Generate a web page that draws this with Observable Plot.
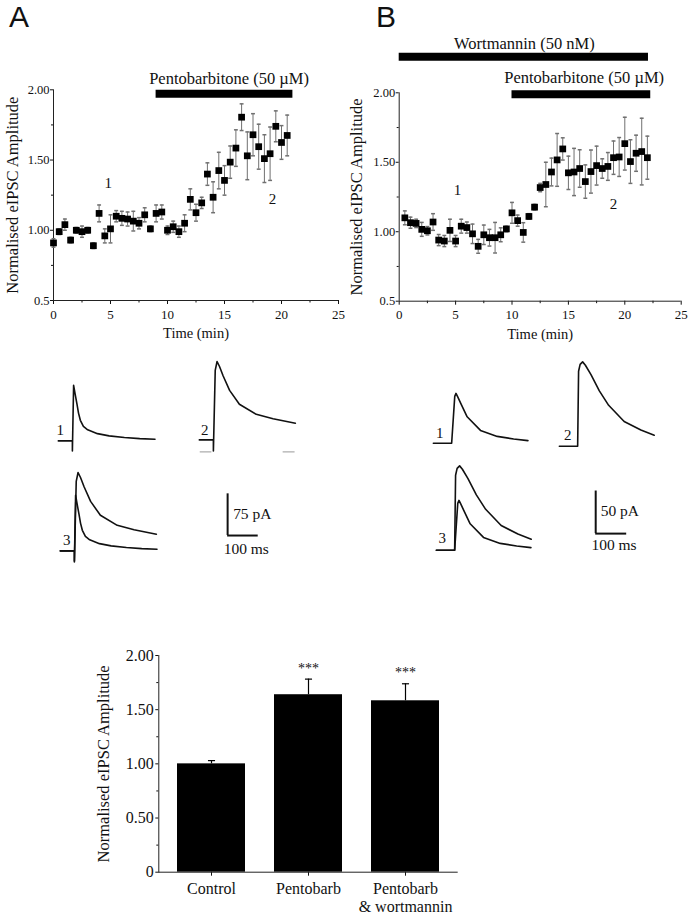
<!DOCTYPE html>
<html><head><meta charset="utf-8">
<script src="https://cdn.jsdelivr.net/npm/d3@7"></script>
<script src="https://cdn.jsdelivr.net/npm/@observablehq/plot@0.6"></script>
<style>
body{margin:0;background:#fff;}
#fig{position:relative;width:694px;height:918px;overflow:hidden;background:#fff;font-family:"Liberation Serif","Times New Roman",serif;color:#111;}
.letter{position:absolute;font-family:"Liberation Sans",Arial,sans-serif;font-size:30px;line-height:30px;color:#111;}
</style></head><body><div id="fig"><div class="letter" style="left:9px;top:2px">A</div><div class="letter" style="left:376px;top:2px">B</div></div>
<script>
// ---------------- DATA ----------------
// Time course, panel A (control slices)
const timeA = [0,0.5,1,1.5,2,2.5,3,3.5,4,4.5,5,5.5,6,6.5,7,7.5,8,8.5,9,9.5,10,10.5,11,11.5,12,12.5,13,13.5,14,14.5,15,15.5,16,16.5,17,17.5,18,18.5,19,19.5,20,20.5];
const ampA = [0.91,0.99,1.04,0.93,1.00,0.99,1.00,0.89,1.12,0.96,1.01,1.10,1.085,1.08,1.065,1.05,1.11,1.01,1.12,1.13,1.00,1.025,0.99,1.05,1.22,1.125,1.195,1.40,1.235,1.425,1.355,1.485,1.585,1.805,1.53,1.68,1.595,1.51,1.545,1.74,1.625,1.675];
const semA = [0.03,0.02,0.04,0.02,0.02,0.04,0.02,0.02,0.06,0.05,0.10,0.04,0.05,0.05,0.07,0.04,0.05,0.02,0.06,0.05,0.03,0.04,0.04,0.06,0.075,0.06,0.04,0.08,0.11,0.13,0.105,0.115,0.13,0.095,0.17,0.15,0.16,0.17,0.19,0.11,0.12,0.145];
// Time course, panel B (wortmannin)
const timeB = [0.5,1,1.5,2,2.5,3,3.5,4,4.5,5,5.5,6,6.5,7,7.5,8,8.5,9,9.5,10,10.5,11,11.5,12,12.5,13,13.5,14,14.5,15,15.5,16,16.5,17,17.5,18,18.5,19,19.5,20,20.5,21,21.5,22];
const ampB = [1.10,1.065,1.06,1.017,1.007,1.07,0.94,0.933,1.01,0.933,1.04,1.03,0.985,0.895,0.978,0.957,0.957,0.978,1.02,1.136,1.08,0.995,1.11,1.177,1.318,1.34,1.43,1.517,1.596,1.424,1.43,1.455,1.361,1.433,1.476,1.455,1.47,1.533,1.538,1.634,1.505,1.565,1.577,1.533];
const semB = [0.05,0.04,0.03,0.05,0.03,0.06,0.04,0.04,0.08,0.04,0.05,0.04,0.07,0.05,0.07,0.06,0.11,0.05,0.02,0.075,0.04,0.07,0.02,0.02,0.03,0.16,0.10,0.19,0.08,0.12,0.17,0.135,0.12,0.155,0.14,0.07,0.10,0.12,0.14,0.19,0.157,0.13,0.24,0.155];
// Drug application periods (min)
const drugNamesA = ["Pentobarbitone (50 µM)"];
const drugStartA = [9];
const drugEndA = [21];
const drugNamesB = ["Wortmannin (50 nM)", "Pentobarbitone (50 µM)"];
const drugStartB = [0, 10];
const drugEndB = [22.1, 22.3];
// Axis ticks
const timeTicks = [0,5,10,15,20,25];
const timeMinor = [2.5,7.5,12.5,17.5,22.5];
const ampTicks = [0.5,1,1.5,2];
const ampMinor = [0.75,1.25,1.75];
// Example eIPSC traces (time ms from stimulus, current pA above baseline)
const ctrlA_ms = [-46,0,0,4,9,15,20,26,36,50,82,120,170,220,270];
const ctrlA_pA = [0,0,-18,100,84,66,50,37,26,20,13,9,6,4,3];
const pentoA_ms = [-46,0,0,6,12,20,32,53,85,140,195,268];
const pentoA_pA = [0,0,-20,125,141,132,115,89,64,46,38,30];
const ctrlB_ms = [-59,0,10,14,20,29,50,93,147,200,246];
const ctrlB_pA = [0,0,55,58.5,54,47,31,15,8,5,3];
const pentoB_ms = [-59,0,3,8,16,25,43,70,100,150,204,247];
const pentoB_pA = [0,0,88,96,99,95,84,65,48,29,19,13];
const baselineA2_start = [-43, 228];
const baselineA2_end = [-5, 267];
const traceNames = ["1","2","3"];
const scaleBarMs = [100, 100];
const scaleBarPa = [75, 50];
// Summary bar chart
const barCats = ["Control", "Pentobarb", "Pentobarb\n& wortmannin"];
const barMeans = [1.00, 1.638, 1.582];
const barSems = [0.03, 0.144, 0.157];
const barSig = ["", "***", "***"];
const barTicks = [0,0.5,1,1.5,2];
const barMinor = [0.25,0.75,1.25,1.75];

// ---------------- DRAWING ----------------
const SERIF = "'Liberation Serif','Times New Roman',serif";
const fig = document.getElementById("fig");
function place(el, left, top){ el.style.position="absolute"; el.style.left=left+"px"; el.style.top=top+"px"; fig.appendChild(el); }
const capSymbol = { draw(ctx, size){ const w = Math.sqrt(size)/2; ctx.moveTo(-w,0); ctx.lineTo(w,0); } };
const baseStyle = {fontFamily: SERIF, fontSize:"13px", color:"#111", background:"transparent", overflow:"visible"};

function timeCourse(cfg){
  const rows = cfg.t.map((t,i)=>({t, v:cfg.v[i], e:cfg.e[i]}));
  const drugs = cfg.names.map((name,i)=>({name, start:cfg.start[i], end:cfg.end[i]}));
  const nums = ["1","2"].map((s)=>({s}));
  const svg = Plot.plot({
    width: cfg.width, height: cfg.height,
    marginLeft: cfg.ml, marginRight: cfg.mr, marginTop: cfg.mt, marginBottom: cfg.mb,
    x:{domain:[0,25]}, y:{domain:[0.5,2]},
    style: baseStyle,
    marks: [
      Plot.axisX({ticks: timeTicks, tickSize:4, tickPadding:5, fontSize:13, label:null}),
      Plot.axisX({ticks: timeMinor, tickSize:2.5, tickFormat:()=>"", label:null}),
      Plot.axisY({ticks: ampTicks, tickSize:3, tickPadding:1, fontSize:12.5, label:null, tickFormat: d => d===0.5 ? "0.5" : d.toFixed(2)}),
      Plot.axisY({ticks: ampMinor, tickSize:2, tickFormat:()=>"", label:null}),
      Plot.ruleX([0], {stroke:"#222"}),
      Plot.ruleY([0.5], {stroke:"#222"}),
      Plot.ruleX(rows, {x:"t", y1:d=>d.v-d.e, y2:d=>d.v+d.e, stroke:"#707070", strokeWidth:1}),
      Plot.dot(rows, {x:"t", y:d=>d.v+d.e, symbol:capSymbol, r:2.2, stroke:"#707070", fill:"none"}),
      Plot.dot(rows, {x:"t", y:d=>d.v-d.e, symbol:capSymbol, r:2.2, stroke:"#707070", fill:"none"}),
      Plot.dot(rows, {x:"t", y:"v", symbol:"square", r:3.8, fill:"#000", stroke:"none"}),
      Plot.ruleY(drugs, {y:(d,i)=>cfg.barY[i], x1:"start", x2:"end", stroke:"#000", strokeWidth:8}),
      Plot.text(drugs, {x:(d,i)=>cfg.labelX[i], y:(d,i)=>cfg.labelY[i], text:"name", fontSize:16.5}),
      Plot.text(nums, {x:(d,i)=>cfg.numX[i], y:(d,i)=>cfg.numY[i], text:"s", fontSize:15}),
      Plot.text(["Time (min)"], {frameAnchor:"bottom", lineAnchor:"middle", dy:33, fontSize:14.5}),
      Plot.text(["Normalised eIPSC Amplitude"], {frameAnchor:"left", textAnchor:"middle", lineAnchor:"middle", rotate:-90, dx:cfg.labelDx, fontSize:16.5})
    ]
  });
  place(svg, cfg.left, cfg.top);
}

timeCourse({t:timeA, v:ampA, e:semA, names:drugNamesA, start:drugStartA, end:drugEndA,
  left:0, top:60, width:345, height:290, ml:53, mr:7, mt:29.3, mb:50,
  barY:[1.972], labelX:[15.4], labelY:[2.08], numX:[4.8,19.2], numY:[1.333,1.22], labelDx:-41});
timeCourse({t:timeB, v:ampB, e:semB, names:drugNamesB, start:drugStartB, end:drugEndB,
  left:345, top:20, width:349, height:330, ml:53.7, mr:13.3, mt:72.3, mb:49.3,
  barY:[2.259,1.99], labelX:[11.1,16.4], labelY:[2.355,2.108], numX:[5.17,19.0], numY:[1.297,1.196], labelDx:-42});

// Trace panels
function tracePlot(cfg){
  const xd = cfg.xd, yd = cfg.yd;
  const w = (xd[1]-xd[0])*cfg.px, h = (yd[1]-yd[0])*cfg.py;
  const marks = cfg.series.map(s => Plot.line(s.ms.map((m,i)=>({m, a:s.pA[i]})), {x:"m", y:"a", stroke:"#111", strokeWidth:1.6, curve:"linear"}));
  if (cfg.extra) marks.push(...cfg.extra);
  if (cfg.label) marks.push(Plot.text([cfg.label], {x:()=>cfg.labelPos[0], y:()=>cfg.labelPos[1], text:d=>d, fontSize:15}));
  const svg = Plot.plot({width:w, height:h, margin:0, x:{domain:xd, axis:null}, y:{domain:yd, axis:null}, style:baseStyle, marks});
  place(svg, cfg.stimX + xd[0]*cfg.px, cfg.baseY - yd[1]*cfg.py);
}
const cA = {ms:ctrlA_ms, pA:ctrlA_pA}, pA_ = {ms:pentoA_ms, pA:pentoA_pA};
const cB = {ms:ctrlB_ms, pA:ctrlB_pA}, pB_ = {ms:pentoB_ms, pA:pentoB_pA};
const A_px = 0.306, A_py = 0.556, B_px = 0.31, B_py = 0.852;
const A_xd = [-65,285], A_yd = [-30,150], B_xd = [-65,285], B_yd = [-20,110];
const baseA2 = baselineA2_start.map((s,i)=>({s, e:baselineA2_end[i]}));
tracePlot({series:[cA], xd:A_xd, yd:A_yd, px:A_px, py:A_py, stimX:72.3, baseY:440.7, label:traceNames[0], labelPos:[-40,20]});
tracePlot({series:[pA_], xd:A_xd, yd:A_yd, px:A_px, py:A_py, stimX:213.3, baseY:439, label:traceNames[1], labelPos:[-28,17],
  extra:[Plot.ruleY(baseA2, {y:()=>-21.6, x1:"s", x2:"e", stroke:"#999", strokeWidth:1})]});
tracePlot({series:[cA, pA_], xd:A_xd, yd:A_yd, px:A_px, py:A_py, stimX:74.3, baseY:550.7, label:traceNames[2], labelPos:[-25,19]});
tracePlot({series:[cB], xd:B_xd, yd:B_yd, px:B_px, py:B_py, stimX:451, baseY:442.7, label:traceNames[0], labelPos:[-38,12]});
tracePlot({series:[pB_], xd:B_xd, yd:B_yd, px:B_px, py:B_py, stimX:576.7, baseY:446, label:traceNames[1], labelPos:[-32,13]});
tracePlot({series:[cB, pB_], xd:B_xd, yd:B_yd, px:B_px, py:B_py, stimX:454.3, baseY:550, label:traceNames[2], labelPos:[-40,14]});

// Scale bars
function scaleBar(cfg){
  const sb = [{ms:cfg.ms, pA:cfg.pA}];
  const xd = cfg.xd, yd = cfg.yd;
  const svg = Plot.plot({width:(xd[1]-xd[0])*cfg.px, height:(yd[1]-yd[0])*cfg.py, margin:0,
    x:{domain:xd, axis:null}, y:{domain:yd, axis:null}, style:baseStyle,
    marks:[
      Plot.ruleX(sb, {x:()=>0, y1:()=>0, y2:"pA", stroke:"#111", strokeWidth:2}),
      Plot.ruleY(sb, {y:()=>0, x1:()=>0, x2:"ms", stroke:"#111", strokeWidth:2}),
      Plot.text(sb, {x:()=>cfg.pAText[0], y:()=>cfg.pAText[1], text:d=>`${d.pA} pA`, textAnchor:"start", fontSize:15.5}),
      Plot.text(sb, {x:()=>cfg.msText[0], y:()=>cfg.msText[1], text:d=>`${d.ms} ms`, fontSize:15.5})
    ]});
  place(svg, cfg.x0 + xd[0]*cfg.px, cfg.y0 - yd[1]*cfg.py);
}
scaleBar({ms:scaleBarMs[0], pA:scaleBarPa[0], px:A_px, py:A_py, xd:[-20,200], yd:[-40,90], x0:226.7, y0:535, pAText:[18,39], msText:[61,-24]});
scaleBar({ms:scaleBarMs[1], pA:scaleBarPa[1], px:B_px, py:B_py, xd:[-20,200], yd:[-25,60], x0:595, y0:533.3, pAText:[16,27], msText:[59,-13.7]});

// Summary bar chart
{
  const rows = barCats.map((c,i)=>({c, m:barMeans[i], e:barSems[i], s:barSig[i]}));
  const svg = Plot.plot({
    width:694, height:288, marginLeft:158.3, marginRight:236.3, marginTop:25, marginBottom:46.3,
    x:{domain:barCats, paddingInner:0.3, paddingOuter:0.178},
    y:{domain:[0,2]},
    style: baseStyle,
    marks:[
      Plot.barY(rows, {x:"c", y:"m", fill:"#000"}),
      Plot.ruleX(rows, {x:"c", y1:"m", y2:d=>d.m+d.e, stroke:"#000", strokeWidth:1.2}),
      Plot.dot(rows, {x:"c", y:d=>d.m+d.e, symbol:capSymbol, r:4, stroke:"#000", strokeWidth:1.2, fill:"none"}),
      Plot.text(rows, {x:"c", y:d=>d.m+d.e, text:"s", dy:-11, fontSize:14}),
      Plot.axisY({ticks:barTicks, tickSize:3, tickPadding:2, fontSize:16, label:null, tickFormat:d=> d===0 ? "0" : d.toFixed(2)}),
      Plot.axisY({ticks:barMinor, tickSize:2, tickFormat:()=>"", label:null}),
      Plot.axisX({tickSize:4, tickPadding:5, fontSize:16, lineHeight:1.12, label:null}),
      Plot.frame({anchor:"left", stroke:"#222"}),
      Plot.ruleY([0], {stroke:"#222"}),
      Plot.text(["Normalised eIPSC Amplitude"], {frameAnchor:"left", textAnchor:"middle", lineAnchor:"middle", rotate:-90, dx:-55, fontSize:16.5})
    ]
  });
  place(svg, 0, 630);
}
</script></body></html>
